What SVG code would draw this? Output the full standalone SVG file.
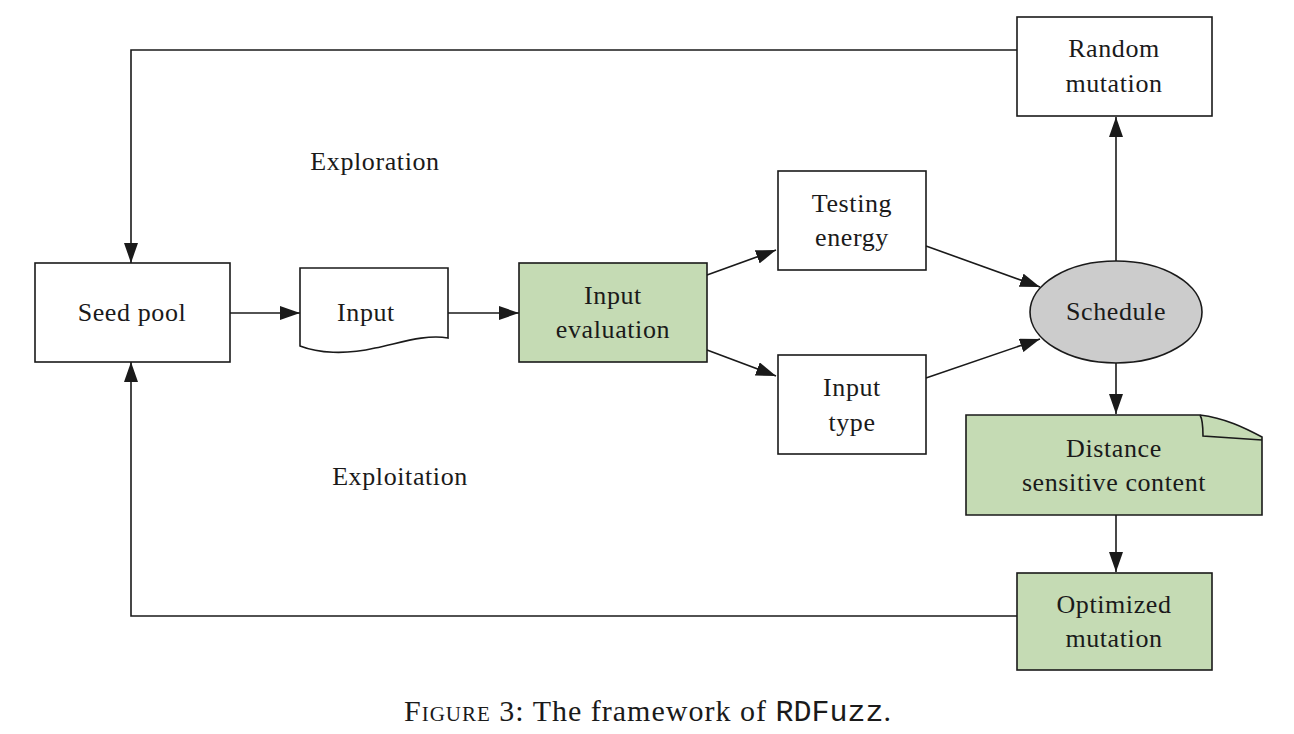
<svg xmlns="http://www.w3.org/2000/svg" width="1294" height="734" viewBox="0 0 1294 734">
<style>
.box{fill:#fff;stroke:#1a1a1a;stroke-width:1.6}
.green{fill:#c5dbb4;stroke:#1a1a1a;stroke-width:1.6}
.grey{fill:#cccccc;stroke:#1a1a1a;stroke-width:1.6}
.t{font-family:"Liberation Serif","DejaVu Serif",serif;font-size:26px;letter-spacing:0.6px;fill:#1a1a1a;text-anchor:middle}
.cap{font-size:30px;letter-spacing:1px}
.c{fill:none;stroke:#1a1a1a;stroke-width:1.6}
</style>
<defs>
<marker id="ah" viewBox="0 0 20 14" refX="20" refY="7" markerWidth="20" markerHeight="14" markerUnits="userSpaceOnUse" orient="auto">
<path d="M0,0 L20,7 L0,14 Z" fill="#1a1a1a"/>
</marker>
</defs>
<rect width="1294" height="734" fill="#fff"/>
<g id="connectors">
<polyline class="c" points="1017,50 131,50 131,263" marker-end="url(#ah)"/>
<polyline class="c" points="1017,616 131,616 131,362" marker-end="url(#ah)"/>
<line class="c" x1="230" y1="313" x2="300" y2="313" marker-end="url(#ah)"/>
<line class="c" x1="448" y1="313" x2="519" y2="313" marker-end="url(#ah)"/>
<line class="c" x1="707" y1="275" x2="776" y2="250" marker-end="url(#ah)"/>
<line class="c" x1="707" y1="350" x2="776" y2="376" marker-end="url(#ah)"/>
<line class="c" x1="926" y1="246" x2="1040" y2="287" marker-end="url(#ah)"/>
<line class="c" x1="926" y1="378" x2="1040" y2="339" marker-end="url(#ah)"/>
<line class="c" x1="1116" y1="262" x2="1116" y2="117" marker-end="url(#ah)"/>
<line class="c" x1="1116" y1="363" x2="1116" y2="414" marker-end="url(#ah)"/>
<line class="c" x1="1116" y1="515" x2="1116" y2="572" marker-end="url(#ah)"/>
</g>
<g id="seed-pool">
<rect class="box" x="35" y="263" width="195" height="99"/>
<text class="t" x="132" y="321">Seed pool</text>
</g>
<g id="input">
<path class="box" d="M300,268 H448 V338 C425,334 400,343 375,348 C345,355 318,353 300,346 Z"/>
<text class="t" x="366" y="321">Input</text>
</g>
<g id="input-evaluation">
<rect class="green" x="519" y="263" width="188" height="99"/>
<text class="t" x="613" y="304">Input</text>
<text class="t" x="613" y="338">evaluation</text>
</g>
<g id="testing-energy">
<rect class="box" x="778" y="171" width="148" height="99"/>
<text class="t" x="852" y="212">Testing</text>
<text class="t" x="852" y="246">energy</text>
</g>
<g id="input-type">
<rect class="box" x="778" y="355" width="148" height="99"/>
<text class="t" x="852" y="396">Input</text>
<text class="t" x="852" y="431">type</text>
</g>
<g id="schedule">
<ellipse class="grey" cx="1116" cy="312" rx="86" ry="51"/>
<text class="t" x="1116" y="320">Schedule</text>
</g>
<g id="random-mutation">
<rect class="box" x="1017" y="17" width="195" height="99"/>
<text class="t" x="1114" y="57">Random</text>
<text class="t" x="1114" y="92">mutation</text>
</g>
<g id="distance-sensitive-content">
<path class="green" d="M966,415 H1200 C1225,418 1245,428 1262,437 V515 H966 Z"/>
<path class="c" d="M1200,415 C1203,420 1203,428 1203,436 L1262,440"/>
<text class="t" x="1114" y="457">Distance</text>
<text class="t" x="1114" y="491">sensitive content</text>
</g>
<g id="optimized-mutation">
<rect class="green" x="1017" y="573" width="195" height="97"/>
<text class="t" x="1114" y="613">Optimized</text>
<text class="t" x="1114" y="647">mutation</text>
</g>
<g id="labels">
<text class="t" x="375" y="170">Exploration</text>
<text class="t" x="400" y="485">Exploitation</text>
</g>
<g id="caption">
<text class="t cap" x="648" y="721"><tspan style="font-variant:small-caps">Figure 3:</tspan> The framework of <tspan style="font-family:'Liberation Mono',monospace;letter-spacing:0">RDFuzz</tspan>.</text>
</g>
</svg>
